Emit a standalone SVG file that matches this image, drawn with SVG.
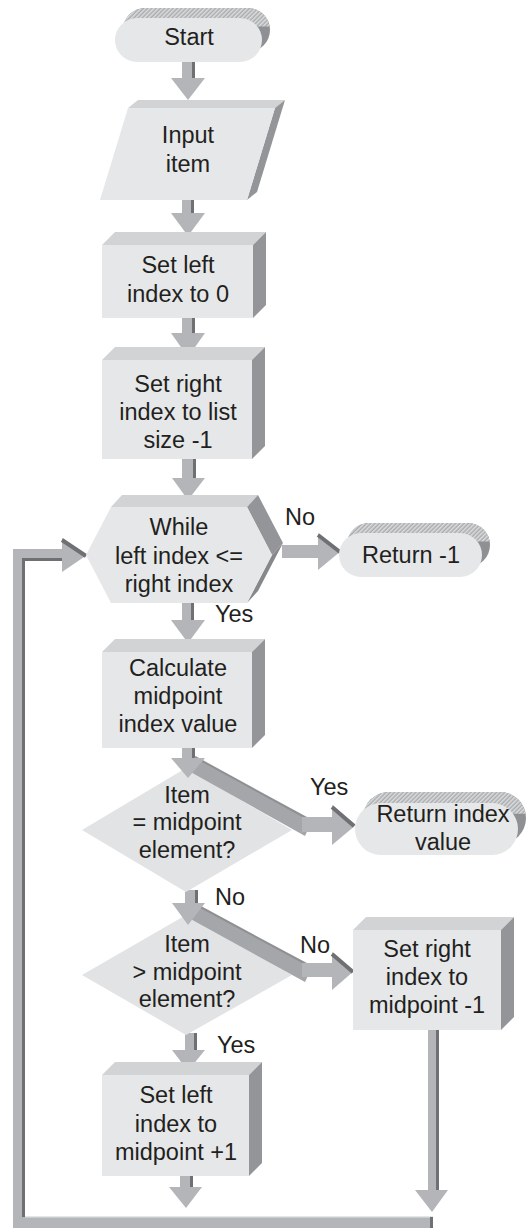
<svg xmlns="http://www.w3.org/2000/svg" width="530" height="1228" viewBox="0 0 530 1228">
<style>
.t{font-family:"Liberation Sans",Arial,sans-serif;font-size:23.5px;fill:#231f20;text-anchor:middle}
.l{font-family:"Liberation Sans",Arial,sans-serif;font-size:23.5px;fill:#231f20}
.front{fill:#e6e7e8}
.top{fill:#d1d3d4}
.side{fill:#939598}
.ar{fill:#b3b5b8}
.ard{fill:#6f7073}
.dia{fill:#e2e3e4}
.band{fill:#a4a6a9}
</style>
<defs>
<pattern id="hatch" width="3" height="3" patternUnits="userSpaceOnUse" patternTransform="rotate(45)">
<rect width="3" height="3" fill="#a9abae"/><rect width="1.5" height="3" fill="#dcdddf"/>
</pattern>
<clipPath id="topband" clipPathUnits="objectBoundingBox"><rect x="0" y="0" width="1" height="0.42"/></clipPath>
</defs>
<rect width="530" height="1228" fill="#ffffff"/>

<g id="connectors">
<rect class="ar" x="182" y="60" width="13" height="19"/><rect class="ard" x="192" y="60" width="3" height="19"/>
<polygon class="ar" points="171,78 205,78 188,100"/>
<rect class="ar" x="182" y="198" width="12" height="16"/><rect class="ard" x="191" y="198" width="3" height="16"/>
<polygon class="ar" points="171,213 205,213 188,236"/>
<rect class="ar" x="182" y="316" width="13" height="18"/><rect class="ard" x="192" y="316" width="3" height="18"/>
<polygon class="ar" points="171,333 205,333 188,357"/>
<rect class="ar" x="182" y="457" width="14" height="22"/><rect class="ard" x="193" y="457" width="3" height="22"/>
<polygon class="ar" points="172,478 205,478 188,500"/>
<rect class="ar" x="182" y="601" width="12" height="20"/><rect class="ard" x="191" y="601" width="3" height="20"/>
<polygon class="ar" points="171,620 205,620 188,643"/>
<rect class="ar" x="182" y="746" width="13" height="13"/><rect class="ard" x="192" y="746" width="3" height="13"/>
<rect class="ar" x="185" y="890" width="13" height="14"/><rect class="ard" x="195" y="890" width="3" height="14"/>
<rect class="ar" x="185" y="1033" width="12" height="18"/><rect class="ard" x="194" y="1033" width="3" height="18"/>
<polygon class="ar" points="172,1050 205,1050 188,1071"/>
<rect class="ar" x="180" y="1174" width="13" height="14"/><rect class="ard" x="190" y="1174" width="3" height="14"/>
<polygon class="ar" points="169,1187 202,1187 186,1208"/>
<rect class="ar" x="282" y="545" width="38" height="13"/>
<polygon class="ar" points="318,533 341,551 318,570"/>
<line x1="318" y1="535" x2="340" y2="552" stroke="#6f7073" stroke-width="4"/>
<rect class="ar" x="428" y="1028" width="11" height="163"/><rect class="ard" x="436" y="1028" width="3" height="163"/>
<polygon class="ar" points="415,1190 448,1190 432,1212"/>
<rect class="ar" x="13" y="1217" width="420" height="11"/>
<rect x="13" y="1216" width="420" height="1.5" fill="#e4e5e6"/>
<rect class="ard" x="430" y="1217" width="3" height="11"/>
<rect class="ar" x="13" y="549" width="12" height="679"/>
<rect class="ard" x="22" y="561" width="3" height="656"/>
<rect class="ar" x="13" y="549" width="50" height="12"/>
<rect class="ard" x="22" y="558" width="41" height="3"/>
<polygon class="ar" points="62,538 87,555 62,572"/>
<line x1="62" y1="540" x2="86" y2="556" stroke="#6f7073" stroke-width="4"/>
</g>

<g id="start">
<rect x="123" y="8" width="147" height="44" rx="22" fill="#8e9093"/>
<rect x="123" y="8" width="147" height="44" rx="22" fill="url(#hatch)" clip-path="url(#topband)"/>
<rect class="front" x="115" y="18" width="147" height="44" rx="22"/>
<text class="t" x="189" y="45">Start</text>
</g>

<g id="input">
<polygon class="top" points="128,108 138,100 285,100 275,108"/>
<polygon class="side" points="275,108 285,100 257,192 247,200"/>
<polygon class="front" points="128,108 275,108 247,200 100,200"/>
<text class="t" x="188" y="143">Input</text>
<text class="t" x="188" y="172">item</text>
</g>

<g id="setleft0">
<polygon class="top" points="102,245 115,232 266,232 253,245"/>
<polygon class="side" points="253,245 266,232 266,305 253,318"/>
<rect class="front" x="102" y="245" width="151" height="73"/>
<text class="t" x="178" y="273">Set left</text>
<text class="t" x="178" y="302">index to 0</text>
</g>

<g id="setrightlist">
<polygon class="top" points="102,360 115,347 265,347 252,360"/>
<polygon class="side" points="252,360 265,347 265,446 252,459"/>
<rect class="front" x="102" y="360" width="150" height="99"/>
<text class="t" x="178" y="392">Set right</text>
<text class="t" x="178" y="420">index to list</text>
<text class="t" x="178" y="448">size -1</text>
</g>

<g id="while">
<polygon class="top" points="111,507 122,495 258,495 247,507"/>
<polygon class="side" points="247,507 258,495 283,543 272,555"/>
<polygon fill="#86888b" points="272,555 283,543 258,591 247,603"/>
<polygon class="front" points="111,507 247,507 272,555 247,603 111,603 86,555"/>
<text class="t" x="179" y="535">While</text>
<text class="t" x="179" y="564">left index &lt;=</text>
<text class="t" x="179" y="592">right index</text>
</g>

<g id="return1">
<rect x="347" y="523" width="143" height="44" rx="22" fill="#8e9093"/>
<rect x="347" y="523" width="143" height="44" rx="22" fill="url(#hatch)" clip-path="url(#topband)"/>
<rect class="front" x="339" y="533" width="143" height="44" rx="22"/>
<text class="t" x="411" y="563">Return -1</text>
</g>

<g id="calc">
<polygon class="top" points="102,652 115,639 265,639 252,652"/>
<polygon class="side" points="252,652 265,639 265,735 252,748"/>
<rect class="front" x="102" y="652" width="150" height="96"/>
<text class="t" x="178" y="676">Calculate</text>
<text class="t" x="178" y="704">midpoint</text>
<text class="t" x="178" y="732">index value</text>
</g>

<g id="eq">
<polygon class="dia" points="186,768 292,830 186,892 82,830"/>
<polygon class="band" points="195,757 312,821 305,836 187,770"/>
<line x1="195" y1="757" x2="312" y2="821" stroke="#8e9093" stroke-width="2"/>
<polygon class="ar" points="171,758 205,758 188,778"/>
<rect class="ar" x="302" y="817" width="32" height="15"/>
<polygon class="ar" points="332,805 356,825 332,845"/>
<line x1="332" y1="807" x2="354" y2="826" stroke="#6f7073" stroke-width="4"/>
<text class="t" x="187" y="803">Item</text>
<text class="t" x="187" y="830">= midpoint</text>
<text class="t" x="187" y="858">element?</text>
</g>

<g id="returnidx">
<rect x="363" y="792" width="163" height="52" rx="26" fill="#8e9093"/>
<rect x="363" y="792" width="163" height="52" rx="26" fill="url(#hatch)" clip-path="url(#topband)"/>
<rect class="front" x="355" y="803" width="163" height="52" rx="26"/>
<text class="t" x="443" y="822">Return index</text>
<text class="t" x="443" y="850">value</text>
</g>

<g id="gt">
<polygon class="dia" points="186,915 292,975 186,1035 82,975"/>
<polygon class="band" points="195,904 312,967 305,982 187,917"/>
<line x1="195" y1="904" x2="312" y2="967" stroke="#8e9093" stroke-width="2"/>
<polygon class="ar" points="172,903 205,903 188,925"/>
<rect class="ar" x="302" y="963" width="32" height="14"/>
<polygon class="ar" points="332,952 354,971 332,990"/>
<line x1="332" y1="954" x2="353" y2="972" stroke="#6f7073" stroke-width="4"/>
<text class="t" x="187" y="952">Item</text>
<text class="t" x="187" y="980">&gt; midpoint</text>
<text class="t" x="187" y="1007">element?</text>
</g>

<g id="setrightmid">
<polygon class="top" points="353,930 366,917 514,917 501,930"/>
<polygon class="side" points="501,930 514,917 514,1017 501,1030"/>
<rect class="front" x="353" y="930" width="148" height="100"/>
<text class="t" x="427" y="957">Set right</text>
<text class="t" x="427" y="985">index to</text>
<text class="t" x="427" y="1013">midpoint -1</text>
</g>

<g id="setleftmid">
<polygon class="top" points="102,1075 115,1062 262,1062 249,1075"/>
<polygon class="side" points="249,1075 262,1062 262,1163 249,1176"/>
<rect class="front" x="102" y="1075" width="147" height="101"/>
<text class="t" x="176" y="1103">Set left</text>
<text class="t" x="176" y="1132">index to</text>
<text class="t" x="176" y="1160">midpoint +1</text>
</g>

<g id="labels">
<text class="l" x="285" y="525">No</text>
<text class="l" x="215" y="622">Yes</text>
<text class="l" x="310" y="795">Yes</text>
<text class="l" x="215" y="905">No</text>
<text class="l" x="300" y="953">No</text>
<text class="l" x="217" y="1053">Yes</text>
</g>
</svg>
